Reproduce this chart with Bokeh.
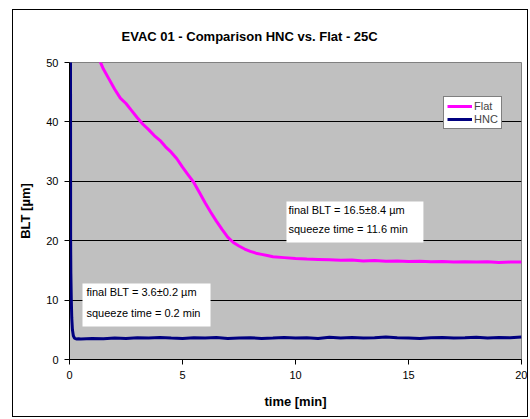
from bokeh.plotting import figure
from bokeh.models import Label, BoxAnnotation, Legend, LegendItem, FixedTicker, Range1d
from bokeh.embed import file_html
from bokeh.resources import INLINE

FONT = "Liberation Sans"

title_text = "EVAC 01 - Comparison HNC vs. Flat - 25C"
x_label = "time [min]"
y_label = "BLT [µm]"
x_ticks = [0, 5, 10, 15, 20]
y_ticks = [0, 10, 20, 30, 40, 50]

flat_t = [1.35, 1.5, 1.75, 2.0, 2.25, 2.5, 2.75, 3.0, 3.25, 3.5, 3.75, 4.0, 4.25, 4.5,
          4.75, 5.0, 5.25, 5.5, 5.75, 6.0, 6.25, 6.5, 6.75, 7.0, 7.25, 7.5, 7.75, 8.0,
          8.25, 8.5, 8.75, 9.0, 9.5, 10.0, 10.5, 11.0, 11.5, 12.0, 12.5, 13.0, 13.5,
          14.0, 14.5, 15.0, 15.5, 16.0, 16.5, 17.0, 17.5, 18.0, 18.5, 19.0, 19.5, 20.0]
flat_blt = [50.2, 48.9, 47.2, 45.5, 44.0, 43.1, 41.9, 40.7, 39.6, 38.7, 37.7, 36.9, 35.8,
            34.9, 33.8, 32.4, 31.1, 29.8, 28.1, 26.4, 24.8, 23.3, 21.9, 20.6, 19.7,
            19.1, 18.6, 18.2, 17.9, 17.7, 17.5, 17.3, 17.15, 17.0, 16.9, 16.85, 16.8,
            16.7, 16.75, 16.6, 16.65, 16.55, 16.6, 16.5, 16.55, 16.45, 16.5, 16.4,
            16.45, 16.4, 16.45, 16.35, 16.4, 16.4]

hnc_t = [0.03, 0.045, 0.05, 0.06, 0.08, 0.10, 0.13, 0.17, 0.22, 0.3, 0.4,
         0.5, 1.0, 1.5, 2.0, 2.5, 3.0, 3.5, 4.0, 4.5, 5.0, 5.5, 6.0, 6.5, 7.0, 7.5,
         8.0, 8.5, 9.0, 9.5, 10.0, 10.5, 11.0, 11.5, 12.0, 12.5, 13.0, 13.5, 14.0,
         14.5, 15.0, 15.5, 16.0, 16.5, 17.0, 17.5, 18.0, 18.5, 19.0, 19.5, 20.0]
hnc_blt = [58.0, 50.0, 20.0, 14.5, 10.0, 7.0, 5.0, 4.0, 3.6, 3.45, 3.5,
           3.45, 3.55, 3.5, 3.6, 3.55, 3.65, 3.6, 3.7, 3.6, 3.55, 3.65, 3.6, 3.7,
           3.55, 3.6, 3.65, 3.55, 3.6, 3.7, 3.6, 3.65, 3.55, 3.75, 3.6, 3.7, 3.6,
           3.65, 3.8, 3.65, 3.6, 3.55, 3.65, 3.7, 3.6, 3.65, 3.75, 3.6, 3.7, 3.65, 3.8]

flat_note = ["final BLT = 16.5±8.4 µm", "squeeze time = 11.6 min"]
hnc_note = ["final BLT = 3.6±0.2 µm", "squeeze time = 0.2 min"]

p = figure(width=516, height=408, output_backend="svg", toolbar_location=None,
           x_range=Range1d(0, 20), y_range=Range1d(0, 50),
           min_border_left=56, min_border_right=8, min_border_top=52, min_border_bottom=59)
p.styles = {"border": "1px solid black", "margin-left": "12px", "margin-top": "9px"}
p.title.text = title_text
p.title.align = "left"
p.title.offset = 52
p.title.standoff = 34
p.title.text_font = FONT
p.title.text_font_size = "13px"
p.title.text_font_style = "bold"
p.title.text_color = "black"
p.title.vertical_align = "top"

p.background_fill_color = "#C0C0C0"
p.border_fill_color = "white"
p.outline_line_color = "#808080"
p.outline_line_width = 1

for ax in (p.xaxis[0], p.yaxis[0]):
    ax.axis_line_color = "black"
    ax.major_tick_line_color = "black"
    ax.major_tick_out = 5
    ax.major_tick_in = 0
    ax.minor_tick_line_color = None
    ax.major_label_text_font = FONT
    ax.major_label_text_font_size = "11px"
    ax.major_label_text_color = "black"
    ax.axis_label_text_font = FONT
    ax.axis_label_text_font_size = "13px"
    ax.axis_label_text_font_style = "bold"
    ax.axis_label_text_color = "black"

p.xaxis.ticker = FixedTicker(ticks=x_ticks)
p.yaxis.ticker = FixedTicker(ticks=y_ticks)
p.xaxis.axis_label = x_label
p.yaxis.axis_label = y_label
p.xaxis.major_label_standoff = 6
p.yaxis.major_label_standoff = 6
p.xaxis.axis_label_standoff = 12
p.yaxis.axis_label_standoff = 10

p.xgrid.visible = False
p.ygrid.ticker = FixedTicker(ticks=[10, 20, 30, 40])
p.ygrid.grid_line_color = "black"
p.ygrid.grid_line_width = 1

r_flat = p.line(flat_t, flat_blt, line_color="#FF00FF", line_width=3)
r_hnc = p.line(hnc_t, hnc_blt, line_color="#000080", line_width=3)

legend = Legend(items=[LegendItem(label="Flat", renderers=[r_flat]),
                       LegendItem(label="HNC", renderers=[r_hnc])],
                location=(374, 230), border_line_color="black", border_line_width=1,
                background_fill_color="white", background_fill_alpha=1.0,
                label_text_font=FONT, label_text_font_size="11px",
                glyph_width=25, glyph_height=12, label_height=12, label_standoff=2,
                padding=3, spacing=1, margin=0)
p.add_layout(legend, "center")

p.add_layout(BoxAnnotation(left=9.60, right=15.66, bottom=19.7, top=26.6,
                           fill_color="white", fill_alpha=1.0, line_color=None))
p.add_layout(BoxAnnotation(left=0.575, right=6.24, bottom=5.56, top=12.79,
                           fill_color="white", fill_alpha=1.0, line_color=None))
for (x, y, t) in [(9.69, 25.25, flat_note[0]), (9.69, 21.9, flat_note[1]),
                  (0.75, 11.33, hnc_note[0]), (0.75, 7.86, hnc_note[1])]:
    p.add_layout(Label(x=x, y=y, text=t, text_baseline="middle", text_align="left",
                       text_font=FONT, text_font_size="11px", text_color="black"))

open("out.html", "w").write(file_html(p, INLINE))
